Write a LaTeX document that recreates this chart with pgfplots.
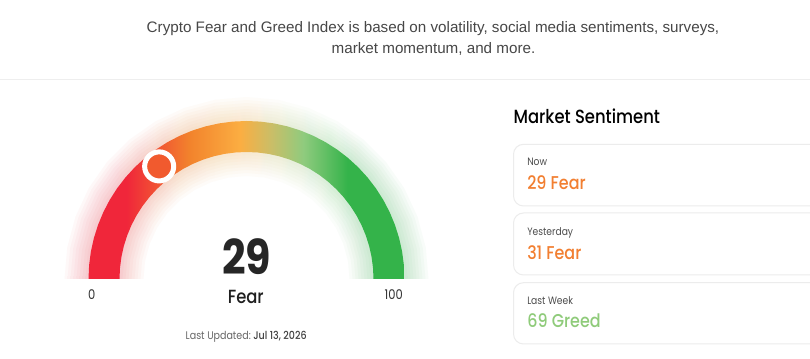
\documentclass[border=0pt]{standalone}
\usepackage{pgfplots}
\pgfplotsset{compat=1.18}
\usepackage{fontspec}
\setmainfont{Poppins}[FakeStretch=0.86]
\newfontfamily\pmed{Poppins Medium}[FakeStretch=0.86]
\newfontfamily\topfont{Liberation Sans}
\definecolor{gR}{HTML}{F0263A}
\definecolor{gO}{HTML}{F2832C}
\definecolor{gY}{HTML}{FBAE42}
\definecolor{gYG}{HTML}{C9BE68}
\definecolor{gLG}{HTML}{8FCB7E}
\definecolor{gG}{HTML}{34B34A}
\definecolor{mk}{HTML}{F15A2E}
\definecolor{fearC}{HTML}{F27F31}
\definecolor{greedC}{HTML}{8FCB7A}
\definecolor{cardline}{HTML}{ECECEC}
\definecolor{sep}{HTML}{EEEEEE}
\pgfdeclarehorizontalshading{gauge}{100bp}{color(0bp)=(gR); color(25bp)=(gR); color(31bp)=(gR); color(41bp)=(gO); color(49bp)=(gY); color(54bp)=(gYG); color(59bp)=(gLG); color(66bp)=(gG); color(75bp)=(gG); color(100bp)=(gG)}
\pgfplotsset{glow/.style={data cs=polar, draw=none, shading=gauge, fill opacity=0.03}}
\begin{document}
\begin{tikzpicture}
\begin{axis}[hide axis, scale only axis, x=0.75pt, y=0.75pt,
  xmin=-246.5, xmax=563.5, ymin=-80, ymax=279, clip=false]
\coordinate (SW) at (axis cs:-246.5,-80);
\coordinate (NE) at (axis cs:563.5,279);
\fill[white] (SW) rectangle (NE);
% soft glow bands
\addplot[glow] coordinates {(180,182) (170,182) (160,182) (150,182) (140,182) (130,182) (120,182) (110,182) (100,182) (90,182) (80,182) (70,182) (60,182) (50,182) (40,182) (30,182) (20,182) (10,182) (0,182) (0,103) (10,103) (20,103) (30,103) (40,103) (50,103) (60,103) (70,103) (80,103) (90,103) (100,103) (110,103) (120,103) (130,103) (140,103) (150,103) (160,103) (170,103) (180,103)};
\addplot[glow] coordinates {(180,179) (170,179) (160,179) (150,179) (140,179) (130,179) (120,179) (110,179) (100,179) (90,179) (80,179) (70,179) (60,179) (50,179) (40,179) (30,179) (20,179) (10,179) (0,179) (0,106) (10,106) (20,106) (30,106) (40,106) (50,106) (60,106) (70,106) (80,106) (90,106) (100,106) (110,106) (120,106) (130,106) (140,106) (150,106) (160,106) (170,106) (180,106)};
\addplot[glow] coordinates {(180,176) (170,176) (160,176) (150,176) (140,176) (130,176) (120,176) (110,176) (100,176) (90,176) (80,176) (70,176) (60,176) (50,176) (40,176) (30,176) (20,176) (10,176) (0,176) (0,109) (10,109) (20,109) (30,109) (40,109) (50,109) (60,109) (70,109) (80,109) (90,109) (100,109) (110,109) (120,109) (130,109) (140,109) (150,109) (160,109) (170,109) (180,109)};
\addplot[glow] coordinates {(180,173) (170,173) (160,173) (150,173) (140,173) (130,173) (120,173) (110,173) (100,173) (90,173) (80,173) (70,173) (60,173) (50,173) (40,173) (30,173) (20,173) (10,173) (0,173) (0,112) (10,112) (20,112) (30,112) (40,112) (50,112) (60,112) (70,112) (80,112) (90,112) (100,112) (110,112) (120,112) (130,112) (140,112) (150,112) (160,112) (170,112) (180,112)};
\addplot[glow] coordinates {(180,170) (170,170) (160,170) (150,170) (140,170) (130,170) (120,170) (110,170) (100,170) (90,170) (80,170) (70,170) (60,170) (50,170) (40,170) (30,170) (20,170) (10,170) (0,170) (0,115) (10,115) (20,115) (30,115) (40,115) (50,115) (60,115) (70,115) (80,115) (90,115) (100,115) (110,115) (120,115) (130,115) (140,115) (150,115) (160,115) (170,115) (180,115)};
\addplot[glow] coordinates {(180,167) (170,167) (160,167) (150,167) (140,167) (130,167) (120,167) (110,167) (100,167) (90,167) (80,167) (70,167) (60,167) (50,167) (40,167) (30,167) (20,167) (10,167) (0,167) (0,118) (10,118) (20,118) (30,118) (40,118) (50,118) (60,118) (70,118) (80,118) (90,118) (100,118) (110,118) (120,118) (130,118) (140,118) (150,118) (160,118) (170,118) (180,118)};
\addplot[glow] coordinates {(180,164) (170,164) (160,164) (150,164) (140,164) (130,164) (120,164) (110,164) (100,164) (90,164) (80,164) (70,164) (60,164) (50,164) (40,164) (30,164) (20,164) (10,164) (0,164) (0,121) (10,121) (20,121) (30,121) (40,121) (50,121) (60,121) (70,121) (80,121) (90,121) (100,121) (110,121) (120,121) (130,121) (140,121) (150,121) (160,121) (170,121) (180,121)};
\addplot[glow] coordinates {(180,161) (170,161) (160,161) (150,161) (140,161) (130,161) (120,161) (110,161) (100,161) (90,161) (80,161) (70,161) (60,161) (50,161) (40,161) (30,161) (20,161) (10,161) (0,161) (0,124) (10,124) (20,124) (30,124) (40,124) (50,124) (60,124) (70,124) (80,124) (90,124) (100,124) (110,124) (120,124) (130,124) (140,124) (150,124) (160,124) (170,124) (180,124)};
% main arc
\addplot[data cs=polar, draw=none, shading=gauge] coordinates {
(180,158) (175,158) (170,158) (165,158) (160,158) (155,158) (150,158) (145,158) (140,158) (135,158) (130,158) (125,158) (120,158) (115,158) (110,158) (105,158) (100,158) (95,158) (90,158) (85,158) (80,158) (75,158) (70,158) (65,158) (60,158) (55,158) (50,158) (45,158) (40,158) (35,158) (30,158) (25,158) (20,158) (15,158) (10,158) (5,158) (0,158)
(0,127) (5,127) (10,127) (15,127) (20,127) (25,127) (30,127) (35,127) (40,127) (45,127) (50,127) (55,127) (60,127) (65,127) (70,127) (75,127) (80,127) (85,127) (90,127) (95,127) (100,127) (105,127) (110,127) (115,127) (120,127) (125,127) (130,127) (135,127) (140,127) (145,127) (150,127) (155,127) (160,127) (165,127) (170,127) (175,127) (180,127)};
% marker at value 29 -> angle 180-29*1.8 = 127.8
\addplot[data cs=polar, only marks, mark=*, mark size=10.9pt,
  mark options={fill=mk, draw=white, line width=3.75pt}] coordinates {(127.8,142.5)};
% separator
\draw[sep, line width=0.75pt] (axis cs:-246.5,199.5) -- (axis cs:563.5,199.5);
% top text
\node[anchor=base, inner sep=0, text=black!72, font=\topfont\fontsize{11.4pt}{13pt}\selectfont] at (axis cs:186.5,246.5) {Crypto Fear and Greed Index is based on volatility, social media sentiments, surveys,};
\node[anchor=base, inner sep=0, text=black!72, font=\topfont\fontsize{11.4pt}{13pt}\selectfont] at (axis cs:187,225.7) {market momentum, and more.};
% gauge text
\node[anchor=base, inner sep=0, text=black!85, font=\bfseries\fontsize{36pt}{40pt}\selectfont] at (axis cs:0,4) {29};
\node[anchor=base, inner sep=0, text=black!88, font=\pmed\fontsize{14.3pt}{16pt}\selectfont] at (axis cs:-0.7,-25) {Fear};
\node[anchor=base, inner sep=0, text=black!80, font=\fontsize{10pt}{12pt}\selectfont] at (axis cs:-154.8,-21) {0};
\node[anchor=base, inner sep=0, text=black!80, font=\fontsize{10pt}{12pt}\selectfont] at (axis cs:147.2,-21) {100};
\node[anchor=base, inner sep=0, font=\fontsize{8.3pt}{10pt}\selectfont] at (axis cs:-0.3,-60.3) {\textcolor{black!60}{Last Updated:}\ \textcolor{black!75}{\pmed Jul 13, 2026}};
% right panel
\node[anchor=base west, inner sep=0, text=black, font=\pmed\fontsize{14.3pt}{16pt}\selectfont] at (axis cs:266.8,155) {Market Sentiment};
\draw[cardline, line width=0.75pt, rounded corners=7.5pt] (axis cs:563.5,134.7) -- (axis cs:267,134.7) -- (axis cs:267,73) -- (axis cs:563.5,73);
\draw[cardline, line width=0.75pt, rounded corners=7.5pt] (axis cs:563.5,66) -- (axis cs:267,66) -- (axis cs:267,4) -- (axis cs:563.5,4);
\draw[cardline, line width=0.75pt, rounded corners=7.5pt] (axis cs:563.5,-3.7) -- (axis cs:267,-3.7) -- (axis cs:267,-65) -- (axis cs:563.5,-65);
\node[anchor=base west, inner sep=0, text=black!70, font=\fontsize{8pt}{9pt}\selectfont] at (axis cs:280.5,113.3) {Now};
\node[anchor=base west, inner sep=0, text=fearC, font=\pmed\fontsize{13.9pt}{15pt}\selectfont] at (axis cs:280.5,89.7) {29 Fear};
\node[anchor=base west, inner sep=0, text=black!70, font=\fontsize{8pt}{9pt}\selectfont] at (axis cs:280.5,43) {Yesterday};
\node[anchor=base west, inner sep=0, text=fearC, font=\pmed\fontsize{13.9pt}{15pt}\selectfont] at (axis cs:280.5,19.7) {31 Fear};
\node[anchor=base west, inner sep=0, text=black!70, font=\fontsize{8pt}{9pt}\selectfont] at (axis cs:280.5,-26) {Last Week};
\node[anchor=base west, inner sep=0, text=greedC, font=\pmed\fontsize{13.9pt}{15pt}\selectfont] at (axis cs:280.5,-48.7) {69 Greed};
\end{axis}
\pgfresetboundingbox
\useasboundingbox (SW) rectangle (NE);
\end{tikzpicture}
\end{document}
